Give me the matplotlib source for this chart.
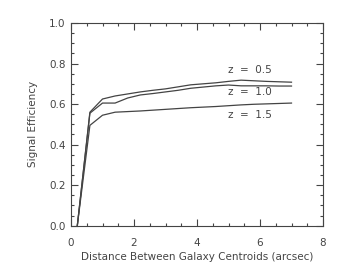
import numpy as np
import matplotlib.pyplot as plt
from matplotlib.ticker import MultipleLocator

# separation (arcsec) and signal efficiency for three redshifts
sep = [0.2, 0.6, 1.0, 1.4, 1.8, 2.2, 2.6, 3.0, 3.4, 3.8, 4.2, 4.6, 5.0, 5.4, 5.8, 6.2, 6.6, 7.0]
eff_z05 = [0.0, 0.56, 0.625, 0.64, 0.65, 0.66, 0.668, 0.675, 0.685, 0.695, 0.70, 0.705, 0.712, 0.718, 0.715, 0.712, 0.71, 0.708]
eff_z10 = [0.0, 0.555, 0.605, 0.605, 0.63, 0.645, 0.652, 0.66, 0.668, 0.678, 0.684, 0.69, 0.694, 0.69, 0.69, 0.69, 0.689, 0.689]
eff_z15 = [0.0, 0.495, 0.545, 0.56, 0.563, 0.566, 0.57, 0.574, 0.578, 0.582, 0.585, 0.588, 0.592, 0.596, 0.599, 0.601, 0.603, 0.605]
labels = ["z  =  0.5", "z  =  1.0", "z  =  1.5"]
label_y = [0.77, 0.66, 0.545]

col = "#444444"
plt.rcParams["font.family"] = "DejaVu Sans"
plt.rcParams["font.size"] = 7.5

fig = plt.figure(figsize=(3.5, 2.75), dpi=100)
ax = fig.add_axes([71/350, 1 - 225.7/275, 252/350, 202.7/275])

for y in (eff_z05, eff_z10, eff_z15):
    ax.plot(sep, y, color=col, lw=0.9)
for t, yy in zip(labels, label_y):
    ax.text(5.0, yy, t, color=col, va="center", ha="left")

ax.set_xlim(0, 8)
ax.set_ylim(0, 1)
ax.xaxis.set_major_locator(MultipleLocator(2))
ax.xaxis.set_minor_locator(MultipleLocator(0.5))
ax.yaxis.set_major_locator(MultipleLocator(0.2))
ax.yaxis.set_minor_locator(MultipleLocator(0.05))
ax.xaxis.set_major_formatter(plt.FormatStrFormatter("%d"))
ax.yaxis.set_major_formatter(plt.FormatStrFormatter("%.1f"))
ax.tick_params(which="both", direction="in", top=True, right=True, colors=col, labelcolor=col, width=0.8)
ax.tick_params(which="major", length=5)
ax.tick_params(which="minor", length=2.5)
ax.tick_params(axis="x", pad=9)
ax.tick_params(axis="y", pad=4)
for s in ax.spines.values():
    s.set_color(col)
    s.set_linewidth(0.8)

ax.set_xlabel("Distance Between Galaxy Centroids (arcsec)", color=col, labelpad=3)
ax.set_ylabel("Signal Efficiency", color=col, labelpad=8)

fig.savefig("out.png", dpi=100)
